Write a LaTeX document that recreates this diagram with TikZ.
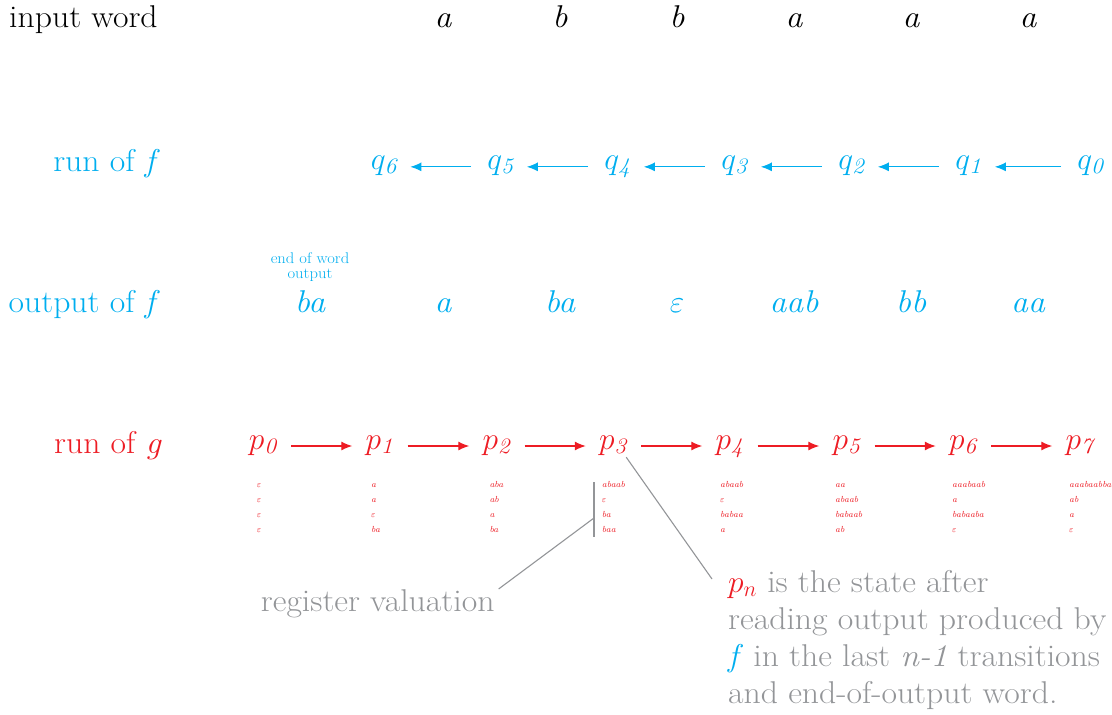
\RequirePackage{fix-cm}
\documentclass[tikz,border=0pt]{standalone}
\usepackage{fontspec}
\setmainfont{Latin Modern Roman}[FakeStretch=1.07]
\usetikzlibrary{arrows.meta}
\definecolor{cyanc}{RGB}{0,174,239}
\definecolor{redc}{RGB}{237,28,36}
\definecolor{grayc}{RGB}{147,149,152}
\newcommand\mystack[2]{\begin{tabular}[t]{@{}#1@{}}#2\end{tabular}}
\tikzset{
  big/.style={font=\fontsize{31.5}{36}\selectfont, inner sep=0pt},
  lab/.style={big, anchor=base east},
  sym/.style={big, anchor=base, text height=14pt, text depth=8pt},
  reg/.style={font=\fontsize{8.8}{15}\selectfont\itshape, text=redc, anchor=base west, inner sep=0pt},
  carr/.style={draw=cyanc, line width=1.2pt, -{Latex[length=11pt,width=9pt]}, shorten >=14pt, shorten <=16pt},
  rarr/.style={draw=redc, line width=1.2pt, -{Latex[length=11pt,width=9pt]}, shorten >=13pt, shorten <=15pt},
  note/.style={draw=grayc, line width=1.1pt},
  notetext/.style={font=\fontsize{31.5}{37.3}\selectfont, text=grayc, inner sep=0pt}
}
\begin{document}
\begin{tikzpicture}[x=1pt,y=-1pt]
\useasboundingbox (0,0) rectangle (1112,715);
% row 1
\node[big, anchor=base west] (iw) at (9,27) {input word};
\node[sym] (w1) at (443,27) {\itshape a};
\node[sym] (w2) at (560,27) {\itshape b};
\node[sym] (w3) at (677,27) {\itshape b};
\node[sym] (w4) at (794,27) {\itshape a};
\node[sym] (w5) at (911,27) {\itshape a};
\node[sym] (w6) at (1028,27) {\itshape a};
% row 2
\node[lab, text=cyanc] (rf) at (160,171) {run of \textit{f}};
\begin{scope}[every node/.style={sym, text=cyanc}]
\node (q6) at (383.5,169) {$q_{\mathit{6}}$};
\node (q5) at (500,169) {$q_{\mathit{5}}$};
\node (q4) at (617,169) {$q_{\mathit{4}}$};
\node (q3) at (734,169) {$q_{\mathit{3}}$};
\node (q2) at (851,169) {$q_{\mathit{2}}$};
\node (q1) at (968,169) {$q_{\mathit{1}}$};
\node (q0) at (1090,169) {$q_{\mathit{0}}$};
\end{scope}
\draw[carr] (q0.mid west) -- (q1.mid east);
\draw[carr] (q1.mid west) -- (q2.mid east);
\draw[carr] (q2.mid west) -- (q3.mid east);
\draw[carr] (q3.mid west) -- (q4.mid east);
\draw[carr] (q4.mid west) -- (q5.mid east);
\draw[carr] (q5.mid west) -- (q6.mid east);
% row 3
\node[lab, text=cyanc] (of) at (160,312) {output of \textit{f}};
\node[font=\fontsize{15.5}{15.7}\selectfont, text=cyanc, anchor=base, inner sep=0pt] (eow) at (310,263) {\mystack{c}{end of word\\output}};
\begin{scope}[every node/.style={sym, text=cyanc}]
\node (o0) at (310,312) {\itshape ba};
\node (o1) at (443,312) {\itshape a};
\node (o2) at (560,312) {\itshape ba};
\node (o3) at (677,312) {$\varepsilon$};
\node (o4) at (794,312) {\itshape aab};
\node (o5) at (911,312) {\itshape bb};
\node (o6) at (1028,312) {\itshape aa};
\end{scope}
% row 4
\node[lab, text=redc] (rg) at (162,453) {run of \textit{g}};
\begin{scope}[every node/.style={sym, text=redc}]
\node (p0) at (262.5,449) {$p_{\mathit{0}}$};
\node (p1) at (379,449) {$p_{\mathit{1}}$};
\node (p2) at (496,449) {$p_{\mathit{2}}$};
\node (p3) at (612.5,449) {$p_{\mathit{3}}$};
\node (p4) at (729,449) {$p_{\mathit{4}}$};
\node (p5) at (846,449) {$p_{\mathit{5}}$};
\node (p6) at (962.5,449) {$p_{\mathit{6}}$};
\node (p7) at (1079,449) {$p_{\mathit{7}}$};
\end{scope}
\draw[rarr] (p0) -- (p1);
\draw[rarr] (p1) -- (p2);
\draw[rarr] (p2) -- (p3);
\draw[rarr] (p3) -- (p4);
\draw[rarr] (p4) -- (p5);
\draw[rarr] (p5) -- (p6);
\draw[rarr] (p6) -- (p7);
% registers
\node[reg] (r0) at (256.7,487) {\mystack{l}{$\varepsilon$\\$\varepsilon$\\$\varepsilon$\\$\varepsilon$}};
\node[reg] (r1) at (371,487) {\mystack{l}{a\\a\\$\varepsilon$\\ba}};
\node[reg] (r2) at (489.3,487) {\mystack{l}{aba\\ab\\a\\ba}};
\node[reg] (r3) at (601.7,487) {\mystack{l}{abaab\\$\varepsilon$\\ba\\baa}};
\node[reg] (r4) at (720,487) {\mystack{l}{abaab\\$\varepsilon$\\babaa\\a}};
\node[reg] (r5) at (835,487) {\mystack{l}{aa\\abaab\\babaab\\ab}};
\node[reg] (r6) at (952,487) {\mystack{l}{aaabaab\\a\\babaaba\\$\varepsilon$}};
\node[reg] (r7) at (1069,487) {\mystack{l}{aaabaabba\\ab\\a\\$\varepsilon$}};
% annotations
\coordinate (vt) at (594,482);
\coordinate (vb) at (594,537);
\coordinate (vm) at (594,518);
\draw[note] (vt) -- (vb);
\node[notetext, anchor=base west] (rv) at (260.7,611) {register valuation};
\draw[note] (vm) -- ([xshift=4pt]rv.north east);
\node[notetext, anchor=base west] (pn) at (728,592) {\mystack{l}{\textcolor{redc}{$p_n$} is the state after\\reading output produced by\\\textcolor{cyanc}{\textit{f}} in the last \textit{n-1} transitions\\and end-of-output word.}};
\coordinate (pe) at (712,579);
\draw[note] (p3.south east) -- (pe);
\end{tikzpicture}
\end{document}
